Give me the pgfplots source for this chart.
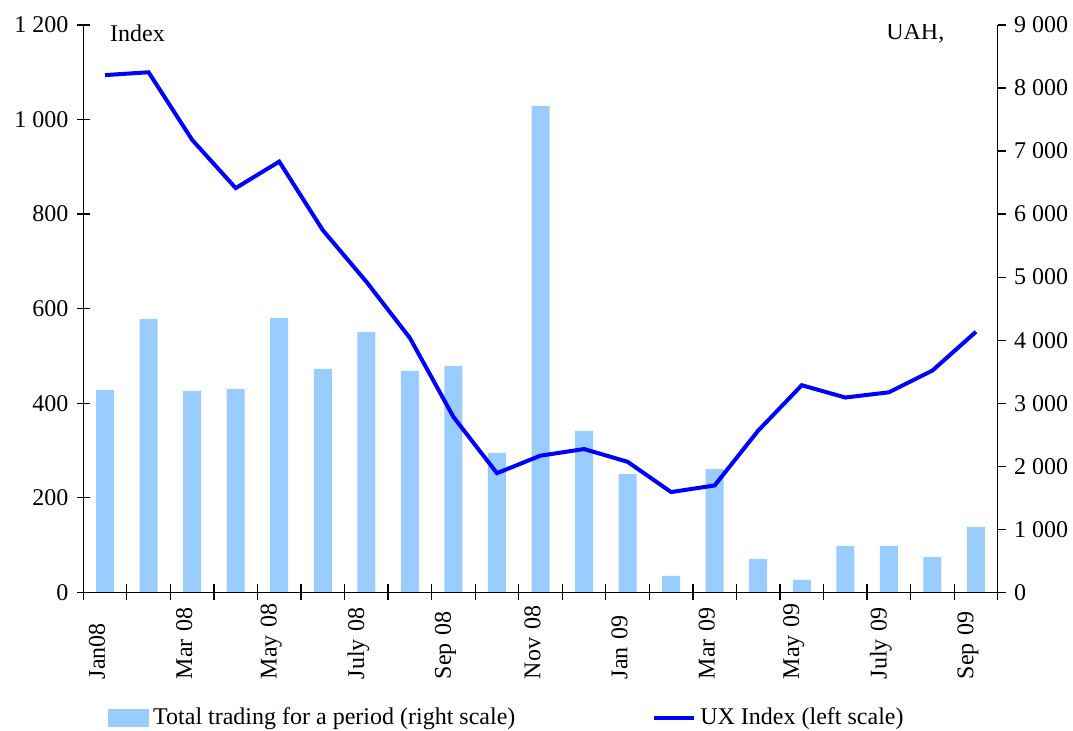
\documentclass[border=0pt]{standalone}
\usepackage{fontspec}
\setmainfont{Liberation Serif}
\usepackage{pgfplots}
\pgfplotsset{compat=1.18}
\definecolor{barblue}{RGB}{153,204,255}
\definecolor{lineblue}{RGB}{0,0,255}
\begin{document}
\fontsize{12}{14.4}\selectfont
\begin{tikzpicture}
\pgfplotsset{
  base/.style={scale only axis, width=457.2pt, height=283.65pt,
    xmin=-0.5, xmax=20.5, ymin=0,
    /pgf/number format/assume math mode=true,
    /pgf/number format/1000 sep={\ },
    tick label style={font=\fontsize{12}{14.4}\selectfont},
    axis line style={black, line width=0.6pt},
    every tick/.style={black, line width=0.6pt}},
}
\begin{axis}[base, ymax=9000, ytick={0,1000,...,9000},
  axis x line=none, axis y line*=right, tick align=outside, major tick length=4pt,
  ybar, bar width=9pt]
\addplot[fill=barblue, draw=none] coordinates {
(0,3210) (1,4336) (2,3194) (3,3226) (4,4352) (5,3543) (6,4129) (7,3512) (8,3591) (9,2212)
(10,7715) (11,2560) (12,1874) (13,260) (14,1956) (15,529) (16,196) (17,737) (18,737) (19,560) (20,1037)};
\end{axis}
\begin{axis}[base, ymax=1200, ytick={0,200,...,1200},
  axis x line*=bottom, axis y line*=left, tick align=center, major tick length=6.5pt,
  xtick={0,2,...,20},
  xticklabels={Jan08, Mar 08, May 08, July 08, Sep 08, Nov 08, Jan 09, Mar 09, May 09, July 09, Sep 09},
  major x tick style={draw=none},
  extra x ticks={-0.5,0.5,...,20.5},
  extra x tick labels={},
  extra x tick style={major tick length=8pt, tick align=center, major x tick style={draw=black, line width=0.6pt}},
  xticklabel style={xshift=-4pt, yshift=5pt, rotate=90, anchor=east, text width=45pt, align=left, inner sep=0pt},
  legend columns=2,
  legend cell align=left,
  legend style={draw=none, fill=none, at={(axis description cs:0.027,-0.2216)}, anchor=west,
    inner sep=0pt, font=\fontsize{12}{14.4}\selectfont,
    nodes={inner sep=2pt},
    /tikz/every even column/.append style={column sep=66.5pt}},
  ]
\addlegendimage{legend image code/.code={\fill[barblue] (0pt,-4.25pt) rectangle (20pt,4.25pt);}}
\addlegendentry{Total trading for a period (right scale)}
\addplot[lineblue, line width=2pt,
  legend image code/.code={\draw[lineblue, line width=2pt] (0pt,0pt) -- (20pt,0pt);}] coordinates {
(0,1094) (1,1100) (2,957) (3,855) (4,911) (5,766) (6,657) (7,538) (8,371) (9,252)
(10,289) (11,303) (12,276) (13,212) (14,226) (15,342) (16,438) (17,412) (18,423) (19,469) (20,551)};
\addlegendentry{UX Index (left scale)}
\node[anchor=base west, inner sep=0pt, yshift=-8.35pt] at (rel axis cs:0.029,1) {Index};
\node[anchor=base east, inner sep=0pt, yshift=-7.5pt] at (rel axis cs:0.942,1) {UAH,};
\end{axis}
\pgfresetboundingbox
\path[use as bounding box] (-41.65pt,-69.35pt) rectangle (494.85pt,296.15pt);
\end{tikzpicture}
\end{document}
